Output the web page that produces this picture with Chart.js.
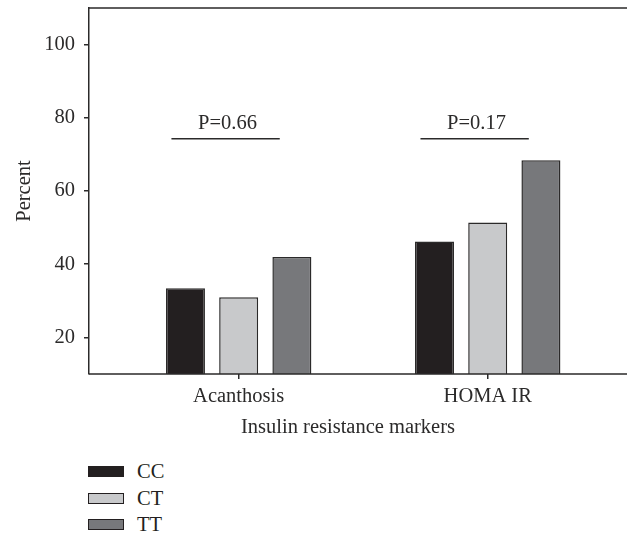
<!DOCTYPE html>
<html>
<head>
<meta charset="utf-8">
<script src="https://cdn.jsdelivr.net/npm/chart.js@4"></script>
<style>
  html, body { margin: 0; padding: 0; background: #fff; }
  #wrap { position: relative; width: 627px; height: 533px; overflow: hidden; }
  #chart { position: absolute; left: 0; top: 0; }
  #legend { position: absolute; left: 88px; top: 458.5px; font-family: "Liberation Serif", serif; font-size: 20.5px; color: #231f20; }
  .item { display: flex; align-items: center; height: 26.5px; }
  .box { width: 34px; height: 9px; border: 1px solid #231f20; margin-right: 13px; }
</style>
</head>
<body>
<div id="wrap">
  <canvas id="chart" width="627" height="445"></canvas>
  <div id="legend"></div>
</div>
<script>
const categories = ['Acanthosis', 'HOMA IR'];
const genotypes = ['CC', 'CT', 'TT'];
const ccValues = [33.4, 46.2];
const ctValues = [31.0, 51.4];
const ttValues = [42.0, 68.4];
const pValues = ['P=0.66', 'P=0.17'];
const pLineValue = 74.3;
const yTicks = [20, 40, 60, 80, 100];
const colors = ['#231f20', '#c8c9cb', '#77787b'];

const ink = '#2b2a2a';
const font = 'Liberation Serif';
const fontSize = 20.5;

function toPoints(values) {
  return values.map((v, i) => ({ x: i, y: v }));
}

// frame lines + p value brackets
const extras = {
  id: 'extras',
  afterDatasetsDraw(chart) {
    const { ctx, chartArea, scales } = chart;
    ctx.save();
    ctx.strokeStyle = ink;
    ctx.lineWidth = 1.5;
    ctx.beginPath();
    ctx.moveTo(chartArea.left, chartArea.top);
    ctx.lineTo(chart.width, chartArea.top);
    ctx.moveTo(chartArea.left, chartArea.bottom);
    ctx.lineTo(chart.width, chartArea.bottom);
    ctx.stroke();

    ctx.fillStyle = ink;
    ctx.font = fontSize + 'px "' + font + '"';
    ctx.textAlign = 'center';
    ctx.textBaseline = 'alphabetic';
    pValues.forEach((p, i) => {
      const y = scales.y.getPixelForValue(pLineValue);
      ctx.beginPath();
      ctx.moveTo(scales.x.getPixelForValue(i - 0.27), y);
      ctx.lineTo(scales.x.getPixelForValue(i + 0.165), y);
      ctx.stroke();
      ctx.fillText(p, scales.x.getPixelForValue(i - 0.045), scales.y.getPixelForValue(pLineValue + 2.6));
    });
    ctx.restore();
  }
};

const chart = new Chart(document.getElementById('chart'), {
  type: 'bar',
  data: {
    datasets: [
      { label: genotypes[0], data: toPoints(ccValues), backgroundColor: colors[0] },
      { label: genotypes[1], data: toPoints(ctValues), backgroundColor: colors[1] },
      { label: genotypes[2], data: toPoints(ttValues), backgroundColor: colors[2] }
    ]
  },
  options: {
    responsive: false,
    animation: false,
    layout: { padding: { left: 0, top: 8, right: 20, bottom: 0 } },
    datasets: {
      bar: {
        borderColor: ink,
        borderWidth: 1.5,
        categoryPercentage: 0.641,
        barPercentage: 0.733
      }
    },
    plugins: {
      legend: { display: false },
      tooltip: { enabled: false }
    },
    scales: {
      x: {
        type: 'linear',
        min: -0.601,
        max: 1.479,
        offset: false,
        afterBuildTicks: s => { s.ticks = categories.map((c, i) => ({ value: i })); },
        afterFit: s => { s.height = 71; s.paddingLeft = 0; s.paddingRight = 0; },
        ticks: {
          callback: v => categories[v],
          color: ink,
          padding: 5,
          maxRotation: 0,
          font: { family: font, size: fontSize }
        },
        grid: { offset: false, drawOnChartArea: false, tickLength: 5, color: ink, lineWidth: 1.5 },
        border: { display: false },
        title: {
          display: true,
          text: 'Insulin resistance markers',
          color: ink,
          padding: { top: 0, bottom: 5.5 },
          font: { family: font, size: fontSize }
        }
      },
      y: {
        min: 10,
        max: 110,
        afterBuildTicks: s => { s.ticks = yTicks.map(v => ({ value: v })); },
        afterFit: s => { s.width = 89; s.paddingTop = 0; s.paddingBottom = 0; },
        ticks: {
          color: ink,
          padding: 9,
          font: { family: font, size: fontSize }
        },
        grid: { drawOnChartArea: false, tickLength: 5, color: ink, lineWidth: 1.5 },
        border: { color: ink, width: 1.5 },
        title: {
          display: true,
          text: 'Percent',
          color: ink,
          padding: { top: 12, bottom: 0 },
          font: { family: font, size: fontSize }
        }
      }
    }
  },
  plugins: [extras]
});

const legend = document.getElementById('legend');
chart.data.datasets.forEach(ds => {
  const item = document.createElement('div');
  item.className = 'item';
  item.innerHTML = `<span class="box" style="background:${ds.backgroundColor}"></span>${ds.label}`;
  legend.appendChild(item);
});
</script>
</body>
</html>
